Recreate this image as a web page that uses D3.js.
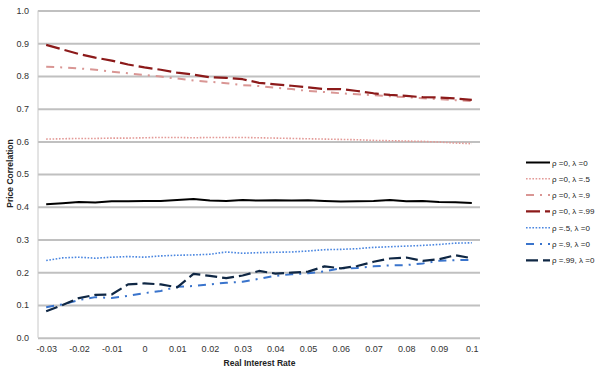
<!DOCTYPE html>
<html>
<head>
<meta charset="utf-8">
<script src="https://cdn.jsdelivr.net/npm/d3@7"></script>
<style>
  html, body { margin: 0; padding: 0; background: #fff; }
  svg { display: block; font-family: "Liberation Sans", Arial, sans-serif; }
</style>
</head>
<body>
<svg id="chart" width="600" height="368"></svg>
<script>
// ---- Data ----
const rates = [-0.03, -0.025, -0.02, -0.015, -0.01, -0.005, 0, 0.005, 0.01, 0.015, 0.02, 0.025, 0.03, 0.035,
  0.04, 0.045, 0.05, 0.055, 0.06, 0.065, 0.07, 0.075, 0.08, 0.085, 0.09, 0.095, 0.1];
const xTickLabels = ["-0.03", "-0.02", "-0.01", "0", "0.01", "0.02", "0.03", "0.04", "0.05", "0.06", "0.07", "0.08", "0.09", "0.1"];
const yTicks = [0, 0.1, 0.2, 0.3, 0.4, 0.5, 0.6, 0.7, 0.8, 0.9, 1.0];
const seriesNames = ["ρ =0, λ =0", "ρ =0, λ =.5", "ρ =0, λ =.9", "ρ =0, λ =.99", "ρ =.5, λ =0", "ρ =.9, λ =0", "ρ =.99, λ =0"];

const rho0lam0 = [0.408, 0.411, 0.415, 0.413, 0.417, 0.417, 0.418, 0.418, 0.421, 0.424, 0.419, 0.418, 0.421, 0.419,
  0.420, 0.419, 0.420, 0.418, 0.416, 0.417, 0.418, 0.421, 0.417, 0.418, 0.415, 0.414, 0.412];
const rho0lam5 = [0.607, 0.608, 0.609, 0.609, 0.610, 0.610, 0.611, 0.612, 0.612, 0.611, 0.612, 0.612, 0.612, 0.611,
  0.610, 0.609, 0.608, 0.607, 0.606, 0.605, 0.603, 0.602, 0.601, 0.600, 0.598, 0.595, 0.593];
const rho0lam9 = [0.828, 0.826, 0.823, 0.819, 0.813, 0.808, 0.803, 0.798, 0.792, 0.786, 0.782, 0.778, 0.772, 0.769,
  0.764, 0.760, 0.754, 0.751, 0.747, 0.744, 0.741, 0.738, 0.735, 0.732, 0.729, 0.726, 0.723];
const rho0lam99 = [0.895, 0.881, 0.867, 0.856, 0.847, 0.835, 0.826, 0.819, 0.810, 0.804, 0.796, 0.794, 0.790, 0.779,
  0.774, 0.770, 0.765, 0.760, 0.760, 0.754, 0.747, 0.742, 0.739, 0.735, 0.734, 0.731, 0.727];
const rho5lam0 = [0.236, 0.244, 0.246, 0.243, 0.246, 0.248, 0.246, 0.250, 0.252, 0.253, 0.255, 0.262, 0.258, 0.260,
  0.261, 0.262, 0.265, 0.269, 0.270, 0.272, 0.276, 0.278, 0.280, 0.282, 0.285, 0.289, 0.290];
const rho9lam0 = [0.093, 0.102, 0.115, 0.124, 0.121, 0.128, 0.136, 0.143, 0.156, 0.158, 0.163, 0.168, 0.171, 0.180,
  0.189, 0.194, 0.197, 0.203, 0.212, 0.213, 0.218, 0.221, 0.222, 0.227, 0.235, 0.237, 0.238];
const rho99lam0 = [0.081, 0.100, 0.121, 0.131, 0.132, 0.163, 0.166, 0.163, 0.154, 0.195, 0.189, 0.182, 0.190, 0.204,
  0.196, 0.199, 0.202, 0.218, 0.212, 0.219, 0.232, 0.242, 0.245, 0.235, 0.240, 0.252, 0.243];

const seriesValues = [rho0lam0, rho0lam5, rho0lam9, rho0lam99, rho5lam0, rho9lam0, rho99lam0];

// ---- Styles ----
const styles = [
  { color: "#000000", width: 2, dash: null },
  { color: "#e39a97", width: 1.6, dash: "1.6,1.6" },
  { color: "#d99694", width: 2, dash: "8,6,2,6" },
  { color: "#8c1a1a", width: 2.2, dash: "14,5" },
  { color: "#4a86e0", width: 1.6, dash: "1.6,1.6" },
  { color: "#3a74cc", width: 2, dash: "8,6,2,6" },
  { color: "#0f2744", width: 2.2, dash: "12,5" }
];

// ---- Layout ----
const svg = d3.select("#chart");
const mLeft = 38, mRight = 480, mTop = 10.5, mBottom = 337.7;

const x = d3.scalePoint().domain(d3.range(rates.length)).range([mLeft, mRight]).padding(0.5);
const y = d3.scaleLinear().domain([0, 1]).range([mBottom, mTop]);

// gridlines + y labels
const yAxis = d3.axisLeft(y).tickValues(yTicks).tickFormat(d3.format(".1f"))
  .tickSizeInner(-(mRight - mLeft)).tickSizeOuter(0).tickPadding(9);
const gy = svg.append("g").attr("transform", `translate(${mLeft},0)`).call(yAxis);
gy.select(".domain").remove();
gy.selectAll(".tick line").attr("stroke", "#c0c0c0").attr("stroke-width", 2);
gy.selectAll(".tick text").attr("fill", "#333").attr("font-size", 9).attr("font-family", "'Liberation Sans', Arial, sans-serif");

// left axis line
svg.append("line").attr("x1", mLeft).attr("x2", mLeft).attr("y1", mTop).attr("y2", mBottom)
  .attr("stroke", "#c8c8c8").attr("stroke-width", 1);

// x axis labels
const tickIdx = d3.range(0, rates.length, 2);
const xAxis = d3.axisBottom(x).tickValues(tickIdx)
  .tickFormat((d, i) => xTickLabels[i]).tickSize(0).tickPadding(8);
const gx = svg.append("g").attr("transform", `translate(0,${mBottom})`).call(xAxis);
gx.select(".domain").remove();
gx.selectAll(".tick text").attr("fill", "#333").attr("font-size", 9).attr("font-family", "'Liberation Sans', Arial, sans-serif");

// axis titles
svg.append("text").attr("x", 259.5).attr("y", 366).attr("text-anchor", "middle")
  .attr("font-size", 8.5).attr("font-weight", "bold").attr("fill", "#222").text("Real Interest Rate");
svg.append("text").attr("transform", "translate(13,173.5) rotate(-90)").attr("text-anchor", "middle")
  .attr("font-size", 8.5).attr("font-weight", "bold").attr("fill", "#222").text("Price Correlation");

// lines
const line = d3.line().x((d, i) => x(i)).y(d => y(d));
const plotOrder = [1, 2, 3, 0, 4, 5, 6];
plotOrder.forEach(k => {
  const s = styles[k];
  svg.append("path").datum(seriesValues[k]).attr("d", line)
    .attr("fill", "none").attr("stroke", s.color).attr("stroke-width", s.width)
    .attr("stroke-dasharray", s.dash).attr("stroke-linejoin", "round");
});

// legend
const legY0 = 162.5, legStep = 16.3;
seriesNames.forEach((name, k) => {
  const s = styles[k];
  const yy = legY0 + k * legStep;
  svg.append("line").attr("x1", 526).attr("x2", 550).attr("y1", yy).attr("y2", yy)
    .attr("stroke", s.color).attr("stroke-width", s.width).attr("stroke-dasharray", s.dash);
  svg.append("text").attr("x", 552).attr("y", yy + 3).attr("font-size", 8).attr("fill", "#222")
    .text(name);
});
</script>
</body>
</html>
